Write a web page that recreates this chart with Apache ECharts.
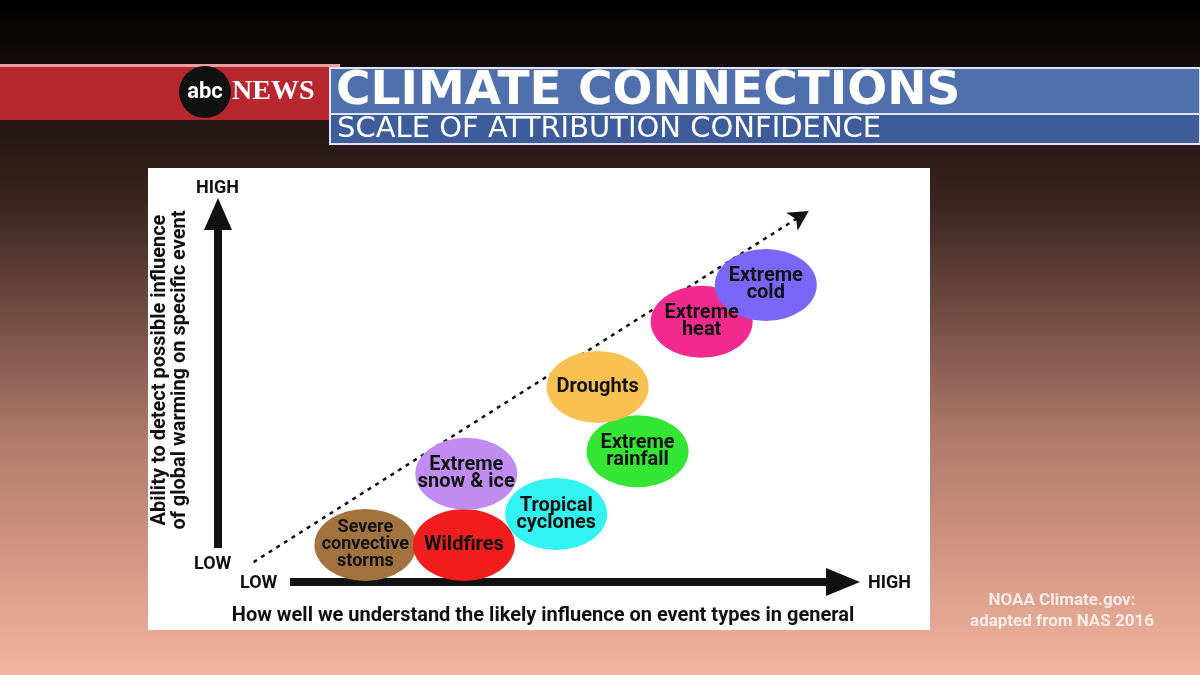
<!DOCTYPE html>
<html><head><meta charset="utf-8">
<script src="https://cdn.jsdelivr.net/npm/echarts@6/dist/echarts.min.js"></script>
<style>html,body{margin:0;padding:0}#c{width:1200px;height:675px}</style>
</head><body><div id="c"></div>
<script>
// event types, positions on a 0-100 scale (x: understanding, y: detection ability)
var events = ['Severe\nconvective\nstorms', 'Wildfires', 'Extreme\nsnow & ice', 'Tropical\ncyclones',
	'Extreme\nrainfall', 'Droughts', 'Extreme\nheat', 'Extreme\ncold'];
var understanding = [27.8, 40.4, 40.7, 52.2, 62.6, 57.5, 70.8, 79.0];
var detection = [18.4, 18.4, 33.8, 25.1, 38.7, 52.6, 66.7, 74.7];
var colors = ['#a2733f', '#f21d1d', '#c18cf2', '#33f2f2', '#33e633', '#f9c152', '#f22a8e', '#7a66f9'];
var trendStart = [13.5, 14.7];
var trendEnd = [84.5, 90.7];

var chart = echarts.init(document.getElementById('c'));
var F = 'Roboto, "Liberation Sans", sans-serif';
var T = '"DejaVu Sans", sans-serif';

chart.setOption({
	backgroundColor: {
		type: 'linear', x: 0, y: 0, x2: 0, y2: 1,
		colorStops: [{ offset: 0, color: '#000000' }, { offset: 0.3, color: '#3a2420' },
			{ offset: 0.65, color: '#b07a6a' }, { offset: 1, color: '#f4b49e' }]
	},
	grid: { left: 148, right: 270, top: 168, bottom: 45, show: true, backgroundColor: '#ffffff', borderWidth: 0 },
	xAxis: { type: 'value', min: 0, max: 100, show: false },
	yAxis: { type: 'value', min: 0, max: 100, show: false },
	series: [{
		type: 'scatter',
		symbol: 'circle',
		symbolSize: [102, 72],
		z: 5,
		itemStyle: { opacity: 1 },
		data: events.map(function (n, i) {
			return {
				value: [understanding[i], detection[i]],
				itemStyle: { color: colors[i], opacity: 1 },
				label: { formatter: n, fontSize: n.indexOf('storms') >= 0 ? 18 : 20 }
			};
		}),
		label: { show: true, position: 'inside', color: '#111', fontWeight: 'bold', fontFamily: F, lineHeight: 17 }
	}, {
		type: 'line',
		data: [],
		markLine: {
			silent: true, symbol: ['none', 'arrow'], symbolSize: [16, 20],
			lineStyle: { color: '#111', type: [4, 5], width: 2.5 },
			label: { show: false },
			data: [[{ coord: trendStart }, { coord: trendEnd }]]
		}
	}],
	graphic: [
		// banner
		{ type: 'rect', shape: { x: 0, y: 64, width: 340, height: 56 }, style: { fill: '#b8262e' } },
		{ type: 'rect', shape: { x: 0, y: 64, width: 340, height: 3 }, style: { fill: '#e8a0a0' } },
		{ type: 'circle', shape: { cx: 205, cy: 92, r: 26 }, style: { fill: '#111' } },
		{ type: 'text', x: 205, y: 92, style: { text: 'abc', fill: '#fff', font: 'bold 22px ' + F, align: 'center', verticalAlign: 'middle' } },
		{ type: 'text', x: 232, y: 92, style: { text: 'NEWS', fill: '#fff', font: 'bold 28px "Liberation Serif", serif', verticalAlign: 'middle' } },
		{ type: 'rect', shape: { x: 330, y: 68, width: 870, height: 46 }, style: { fill: '#4f70ad', stroke: '#dfe6f2', lineWidth: 2 } },
		{ type: 'rect', shape: { x: 330, y: 114, width: 870, height: 30 }, style: { fill: '#3d5c99', stroke: '#dfe6f2', lineWidth: 2 } },
		{ type: 'text', x: 336, y: 92, style: { text: 'CLIMATE CONNECTIONS', fill: '#fff', font: 'bold 47px ' + T, verticalAlign: 'middle' } },
		{ type: 'text', x: 337, y: 129, style: { text: 'SCALE OF ATTRIBUTION CONFIDENCE', fill: '#fff', font: '29px ' + T, verticalAlign: 'middle' } },
		// axes arrows
		{ type: 'rect', shape: { x: 214, y: 222, width: 8, height: 326 }, style: { fill: '#111' } },
		{ type: 'polygon', shape: { points: [[204, 230], [218, 198], [232, 230]] }, style: { fill: '#111' } },
		{ type: 'rect', shape: { x: 290, y: 578, width: 540, height: 8 }, style: { fill: '#111' } },
		{ type: 'polygon', shape: { points: [[826, 568], [860, 582], [826, 596]] }, style: { fill: '#111' } },
		{ type: 'text', x: 196, y: 188, style: { text: 'HIGH', fill: '#111', font: 'bold 18px ' + F, verticalAlign: 'middle' } },
		{ type: 'text', x: 194, y: 564, style: { text: 'LOW', fill: '#111', font: 'bold 18px ' + F, verticalAlign: 'middle' } },
		{ type: 'text', x: 240, y: 583, style: { text: 'LOW', fill: '#111', font: 'bold 18px ' + F, verticalAlign: 'middle' } },
		{ type: 'text', x: 868, y: 583, style: { text: 'HIGH', fill: '#111', font: 'bold 18px ' + F, verticalAlign: 'middle' } },
		{ type: 'text', x: 170, y: 370, rotation: Math.PI / 2,
			style: { text: 'Ability to detect possible influence\nof global warming on specific event', fill: '#111',
				font: 'bold 20px ' + F, align: 'center', verticalAlign: 'middle', lineHeight: 20 } },
		{ type: 'text', x: 543, y: 616, style: { text: 'How well we understand the likely influence on event types in general',
			fill: '#111', font: 'bold 20px ' + F, align: 'center', verticalAlign: 'middle' } },
		{ type: 'text', x: 1062, y: 611, style: { text: 'NOAA Climate.gov:\nadapted from NAS 2016', fill: 'rgba(255,255,255,0.8)',
			font: 'bold 17px ' + F, align: 'center', verticalAlign: 'middle', lineHeight: 21 } }
	]
});
</script></body></html>
